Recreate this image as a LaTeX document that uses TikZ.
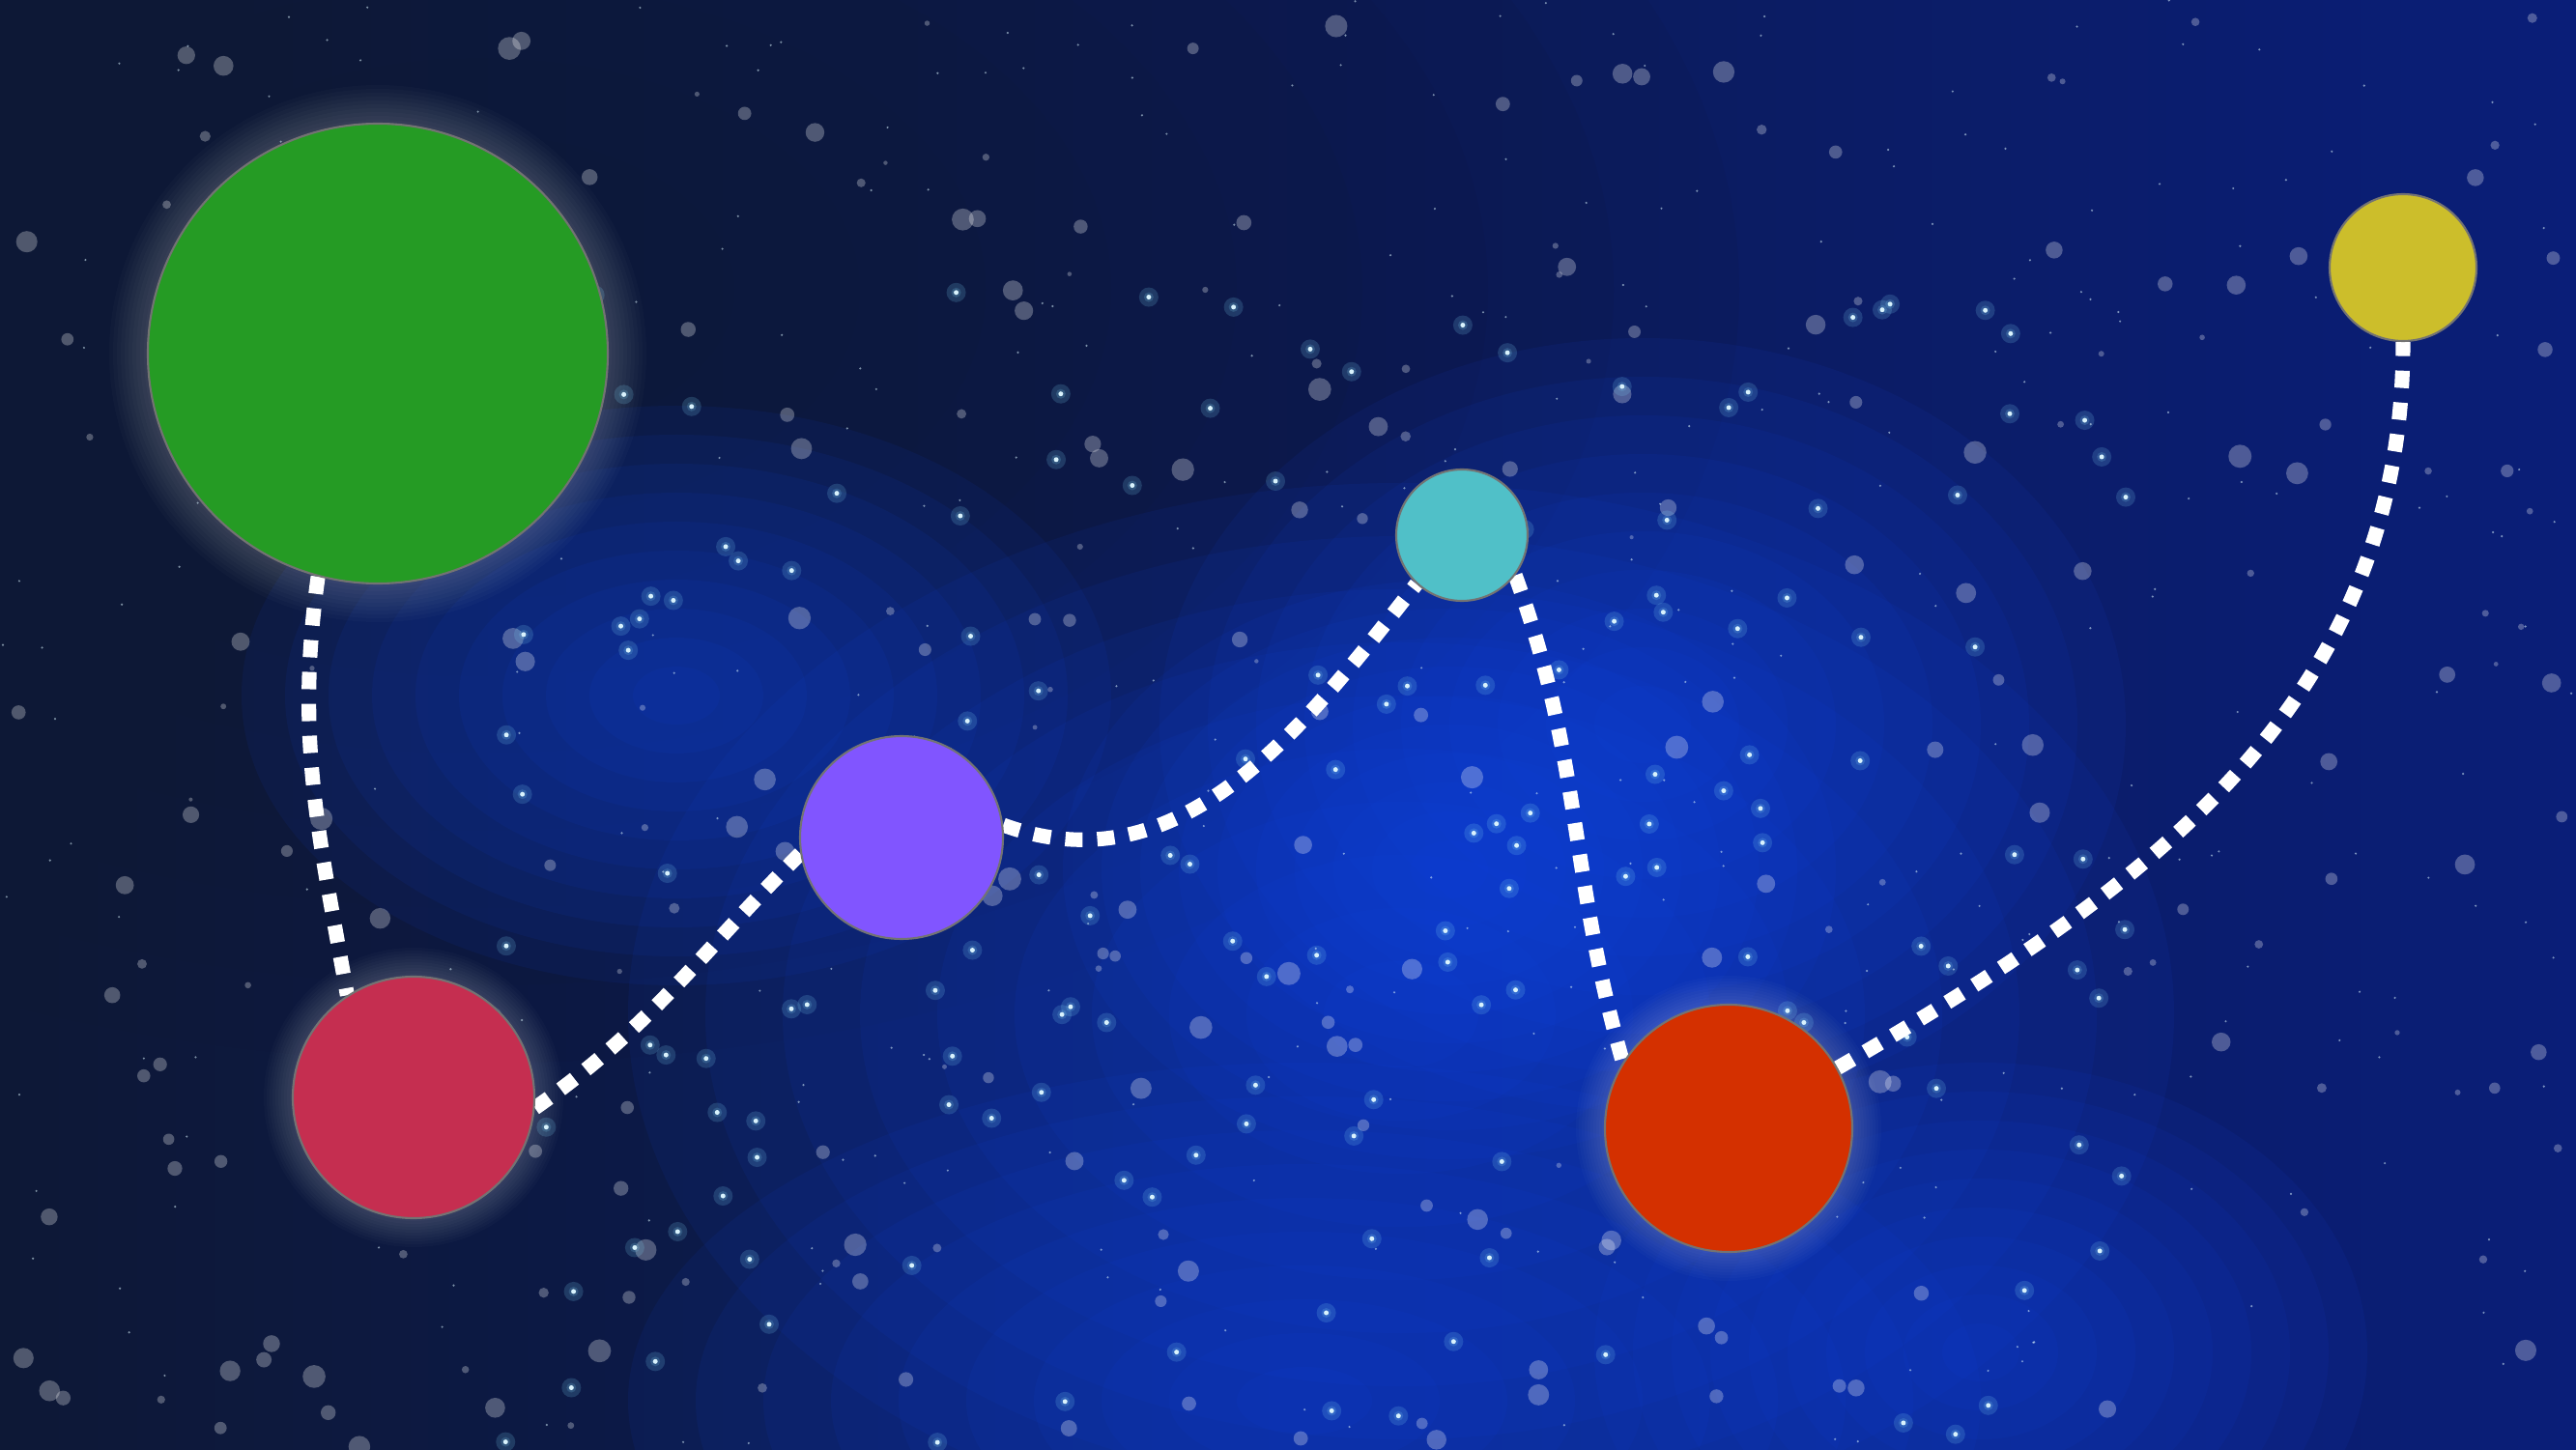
\documentclass[tikz,border=0pt]{standalone}
\usepackage{xcolor}
\usepackage{tikz}
\usetikzlibrary{positioning}

\definecolor{skydark}{RGB}{13,24,54}
\definecolor{skynavy}{RGB}{10,30,120}
\definecolor{skyblue}{RGB}{24,70,230}
\definecolor{planetgreen}{RGB}{37,155,36}
\definecolor{planetcrimson}{RGB}{197,46,80}
\definecolor{planetviolet}{RGB}{129,85,255}
\definecolor{planetteal}{RGB}{80,192,200}
\definecolor{planetorange}{RGB}{212,48,0}
\definecolor{planetgold}{RGB}{204,190,43}

\pgfdeclarelayer{back}
\pgfdeclarelayer{links}
\pgfsetlayers{back,links,main}

\tikzset{
  planet/.style={circle, inner sep=0pt, draw=black!55, line width=0.6pt},
  link/.style={draw=white, line width=4.3pt, dash pattern=on 5.1pt off 4.3pt},
  bokeh/.style={fill=white, opacity=0.28},
  spark/.style={fill=cyan!15!white},
  sparkglow/.style={fill=cyan!50!white, opacity=0.18},
  halo/.style={fill=white, opacity=0.018}
}

\begin{document}
\begin{tikzpicture}
\useasboundingbox (0,0) rectangle (26.66,15);

%% Planets %%
\node[planet, fill=planetgreen, minimum size=4.76cm] (green) at (3.91,11.34) {};
\node[planet, fill=planetcrimson, minimum size=2.5cm] (crimson) at (4.28,3.64) {};
\node[planet, fill=planetviolet, minimum size=2.1cm] (violet) at (9.33,6.33) {};
\node[planet, fill=planetteal, minimum size=1.36cm] (teal) at (15.13,9.46) {};
\node[planet, fill=planetorange, minimum size=2.56cm] (orange) at (17.89,3.32) {};
\node[planet, fill=planetgold, minimum size=1.52cm] (gold) at (24.87,12.23) {};

%% Sky %%
\begin{pgfonlayer}{back}
\shade[left color=skydark, right color=skynavy] (0,0) rectangle (26.66,15);
\foreach \k in {1,...,10}{
  \fill[skydark, opacity=0.09] (5,12) ellipse [x radius=13*\k/10, y radius=8*\k/10];
}

% nebula
\foreach \bx/\by/\ba/\bb in {14.5/4.5/8/5.5, 17/7.5/5/4, 13.5/0.5/7/3.5, 7/7.8/4.5/3, 20.5/1/4/3, 15/6/4/3}{
  \foreach \k in {1,...,10}{
    \fill[skyblue, opacity=0.08] (\bx,\by) ellipse [x radius=\ba*\k/10, y radius=\bb*\k/10];
  }
}

% glow round the big planets
\foreach \k in {1,...,10}{
  \fill[halo] (green) circle (2.38+0.04*\k);
  \fill[halo] (crimson) circle (1.25+0.03*\k);
  \fill[halo] (orange) circle (1.28+0.03*\k);
}

% bokeh
\pgfmathsetseed{42}
\foreach \i in {1,...,260}{
  \pgfmathsetmacro\sx{rnd*26.66}
  \pgfmathsetmacro\sy{rnd*15}
  \pgfmathsetmacro\sr{0.02+rnd*0.1}
  \fill[bokeh] (\sx,\sy) circle (\sr);
}

% bright stars
\foreach \i in {1,...,160}{
  \pgfmathsetmacro\sx{5+rnd*17}
  \pgfmathsetmacro\sy{rnd*12}
  \fill[sparkglow] (\sx,\sy) circle (0.1);
  \fill[sparkglow] (\sx,\sy) circle (0.05);
  \fill[spark] (\sx,\sy) circle (0.025);
}

% dust
\foreach \i in {1,...,350}{
  \pgfmathsetmacro\sx{rnd*26.66}
  \pgfmathsetmacro\sy{rnd*15}
  \fill[spark, opacity=0.55] (\sx,\sy) circle (0.012);
}
\end{pgfonlayer}

%% Links %%
\begin{pgfonlayer}{links}
\draw[link] (green.255) to[out=262, in=100] (crimson.123);
\draw[link] (crimson.-5) to[out=35, in=225] (violet.189);
\draw[link] (violet.7) to[out=-20, in=232] (teal.227);
\draw[link] (teal.-37) to[out=-70, in=106] (orange.148);
\draw[link] (orange.29) to[out=30, in=270] (gold.south);
\end{pgfonlayer}

\end{tikzpicture}
\end{document}
